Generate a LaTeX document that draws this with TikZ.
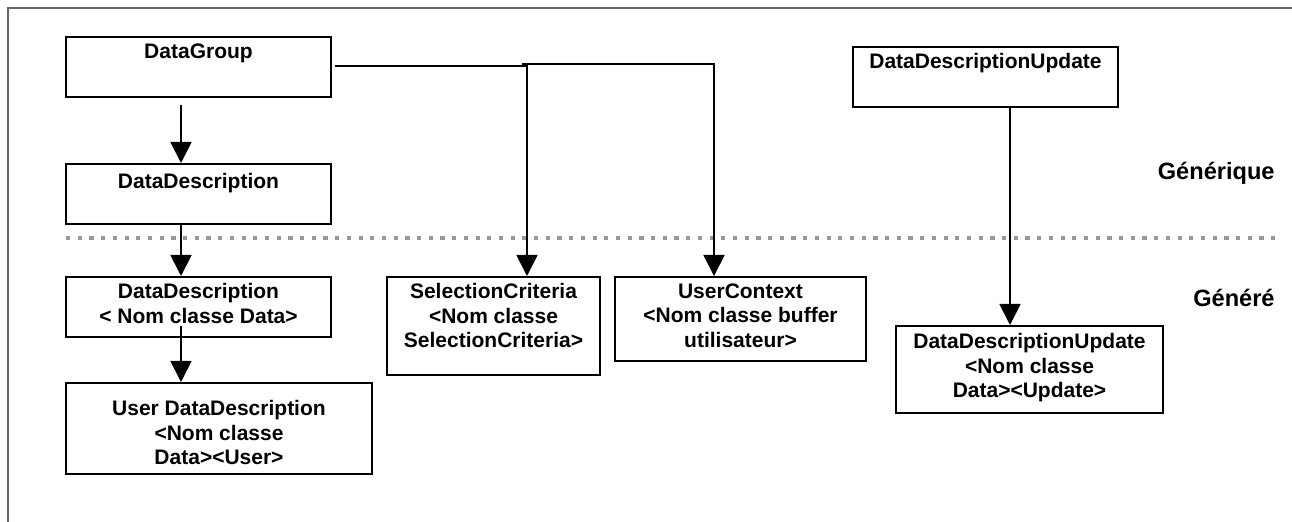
\documentclass[tikz,border=0pt]{standalone}
\usepackage{fontspec}
\setmainfont{Liberation Sans}
\usetikzlibrary{arrows.meta,calc}
\begin{document}
\begin{tikzpicture}[x=0.5pt,y=-0.5pt,
  box/.style={draw, line width=1pt, inner sep=0pt},
  txt/.style={font=\bfseries\fontsize{10.5}{12.25}\selectfont, align=center, inner sep=0pt, anchor=north},
  lbl/.style={font=\bfseries\fontsize{11.8}{14}\selectfont, inner sep=0pt, anchor=base east},
  conn/.style={line width=0.9pt},
  arr/.style={conn, -{Triangle[length=10.5pt,width=10.5pt]}},
  sepline/.style={line width=2.2pt, color=black!40, dash pattern=on 2.1pt off 3.75pt},
  frameline/.style={line width=0.8pt, color=black!60}]
\useasboundingbox (0,0) rectangle (1292,522);
\draw[frameline] (1292,8) -- (8,8) -- (8,522);
\draw[sepline] (66,238) -- (1277,238);

% boxes
\node[box, minimum width=132.5pt, minimum height=30pt] (dg) at (198.5,67) {};
\node[txt] (dgt) at (198.5,43) {DataGroup};
\node[box, minimum width=132.5pt, minimum height=30pt] (dd) at (198.5,194) {};
\node[txt] (ddt) at (198.5,173) {DataDescription};
\node[box, minimum width=132.5pt, minimum height=30pt] (ddn) at (198.5,307) {};
\node[txt] (ddnt) at (198.5,283) {DataDescription\\< Nom classe Data>};
\node[box, minimum width=153pt, minimum height=45.5pt] (udd) at (219,428.5) {};
\node[txt] (uddt) at (219,400) {User DataDescription\\<Nom classe\\Data><User>};
\node[box, minimum width=106.5pt, minimum height=49pt] (sel) at (493.5,326) {};
\node[txt] (selt) at (493.5,283) {SelectionCriteria\\<Nom classe\\SelectionCriteria>};
\node[box, minimum width=125.5pt, minimum height=42pt] (uctx) at (740.5,319) {};
\node[txt] (uctxt) at (740.5,283) {UserContext\\<Nom classe buffer\\utilisateur>};
\node[box, minimum width=132.5pt, minimum height=30pt] (ddu) at (985.5,77) {};
\node[txt] (ddut) at (985.5,53) {DataDescriptionUpdate};
\node[box, minimum width=133.5pt, minimum height=43.5pt] (ddub) at (1029.5,369.5) {};
\node[txt] (ddubt) at (1029.5,333) {DataDescriptionUpdate\\<Nom classe\\Data><Update>};

\node[lbl] (gen) at (1275,180) {Générique};
\node[lbl] (gene) at (1275,307) {Généré};

% connectors
\draw[arr] ([xshift=-8.75pt,yshift=-3.5pt]dg.south) -- ([xshift=-8.75pt]dd.north);
\draw[arr] ([xshift=-8.75pt]dd.south) -- ([xshift=-8.75pt]ddn.north);
\draw[arr] ([xshift=-8.75pt,yshift=6pt]ddn.south) -- ([xshift=-19pt]udd.north);
\draw[arr] ([xshift=1.5pt,yshift=0.5pt]dg.east) -| ([xshift=16.75pt]sel.north);
\coordinate (branch) at (522,64);
\draw[arr] (branch) -| ([xshift=-13.25pt]uctx.north);
\draw[arr] ([xshift=12.25pt]ddu.south) -- ([xshift=-9.75pt]ddub.north);
\end{tikzpicture}
\end{document}
